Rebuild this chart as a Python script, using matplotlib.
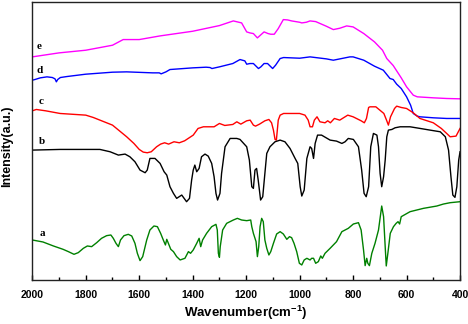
import numpy as np
import matplotlib
matplotlib.use("Agg")
import matplotlib.pyplot as plt
from matplotlib.ticker import MultipleLocator

plt.rcParams['font.family'] = ['Liberation Sans', 'DejaVu Sans']
plt.rcParams['font.weight'] = 'bold'
plt.rcParams['mathtext.fontset'] = 'custom'
plt.rcParams['mathtext.bf'] = 'Liberation Sans:bold'
plt.rcParams['mathtext.rm'] = 'Liberation Sans:bold'
plt.rcParams['mathtext.default'] = 'bf'

# spectra (wavenumber, offset intensity in a.u.)
wn_e = [2000, 1900, 1800, 1700, 1660, 1600, 1522, 1400, 1300, 1248, 1217, 1198, 1186, 1173,
        1158, 1133, 1118, 1108, 1095, 1080, 1061, 1045, 1030, 1000, 992, 975, 961, 940, 900,
        874, 850, 824, 800, 760, 720, 690, 674, 650, 620, 600, 575, 560, 500, 450, 400]
e_val = [670, 682, 690, 705, 722, 722, 733, 747, 764, 778, 772, 745, 742, 740,
         727, 745, 740, 738, 738, 755, 782, 781, 778, 774, 772, 774, 778, 776, 762,
         752, 756, 763, 760, 740, 715, 690, 665, 644, 607, 580, 555, 550, 547, 545, 544]

wn_d = [2000, 1990, 1970, 1945, 1925, 1915, 1910, 1905, 1895, 1870, 1800, 1700, 1647, 1550,
        1525, 1518, 1500, 1485, 1400, 1350, 1335, 1328, 1300, 1250, 1223, 1205, 1198, 1186,
        1173, 1154, 1145, 1133, 1120, 1101, 1090, 1073, 1060, 1000, 961, 900, 874, 812, 800,
        760, 720, 687, 662, 650, 637, 620, 600, 585, 575, 560, 550, 500, 450, 400]
d_val = [600, 602, 607, 610, 608, 604, 595, 602, 608, 611, 618, 624, 625, 622,
         622, 619, 625, 632, 637, 639, 638, 635, 640, 650, 662, 658, 648, 650,
         650, 635, 640, 650, 650, 635, 645, 665, 668, 666, 670, 664, 660, 670, 670,
         660, 642, 630, 605, 602, 588, 575, 550, 525, 500, 492, 490, 487, 485, 485]

wn_c = [2000, 1985, 1950, 1896, 1800, 1772, 1700, 1647, 1620, 1600, 1585, 1570, 1555, 1535,
        1520, 1505, 1490, 1470, 1450, 1430, 1398, 1380, 1360, 1320, 1300, 1280, 1250, 1235,
        1220, 1198, 1185, 1173, 1165, 1150, 1130, 1115, 1105, 1098, 1092, 1087, 1080, 1073,
        1060, 1000, 980, 968, 961, 952, 945, 935, 924, 905, 895, 885, 870, 850, 820, 800,
        770, 758, 750, 742, 737, 715, 700, 685, 675, 668, 660, 645, 637, 620, 600, 575,
        550, 500, 470, 450, 437, 415, 400]
c_val = [508, 512, 508, 500, 495, 488, 465, 430, 410, 392, 384, 382, 385, 400,
         408, 412, 408, 415, 412, 418, 435, 455, 460, 460, 470, 464, 467, 475,
         468, 478, 480, 465, 462, 468, 478, 482, 472, 450, 422, 420, 480, 495,
         500, 500, 495, 480, 460, 460, 480, 490, 475, 472, 478, 472, 485, 480, 495, 490,
         478, 472, 485, 518, 520, 520, 510, 500, 480, 465, 490, 515, 522, 518, 515, 502,
         485, 472, 455, 440, 430, 432, 455]

wn_b = [2000, 1896, 1747, 1709, 1678, 1653, 1635, 1616, 1597, 1578, 1570, 1560, 1541, 1522,
        1507, 1497, 1485, 1472, 1460, 1441, 1432, 1423, 1412, 1404, 1398, 1392, 1385, 1376,
        1367, 1354, 1342, 1329, 1320, 1313, 1307, 1298, 1292, 1279, 1260, 1235, 1223, 1198,
        1188, 1179, 1173, 1167, 1161, 1155, 1146, 1138, 1130, 1123, 1111, 1092, 1073, 1055,
        1036, 1017, 1007, 998, 992, 983, 973, 961, 955, 948, 942, 933, 918, 886, 862, 842,
        830, 818, 799, 780, 768, 759, 751, 742, 734, 724, 711, 705, 699, 693, 686, 680,
        674, 668, 655, 643, 624, 587, 549, 512, 474, 455, 443, 434, 427, 419, 412, 405, 400]
b_val = [390, 392, 392, 385, 375, 378, 370, 355, 330, 322, 330, 365, 365, 350,
         325, 315, 280, 260, 245, 255, 245, 235, 245, 300, 330, 345, 325, 335,
         370, 378, 372, 350, 310, 260, 240, 260, 320, 400, 425, 425, 422, 400,
         360, 280, 275, 330, 335, 300, 240, 250, 320, 380, 400, 415, 420, 415,
         395, 365, 350, 280, 252, 270, 365, 400, 395, 365, 410, 435, 435, 420, 417, 410,
         415, 425, 422, 400, 330, 260, 250, 280, 400, 440, 435, 400, 320, 280, 310, 360,
         430, 450, 452, 457, 460, 460, 455, 450, 445, 430, 390, 310, 255, 248, 280, 360, 385]

wn_a = [2000, 1960, 1921, 1885, 1865, 1844, 1828, 1809, 1794, 1778, 1759, 1741, 1722, 1706,
        1697, 1687, 1678, 1670, 1657, 1641, 1628, 1616, 1607, 1597, 1587, 1572, 1560, 1545,
        1532, 1520, 1510, 1502, 1497, 1491, 1482, 1472, 1460, 1447, 1429, 1416, 1408, 1398,
        1385, 1376, 1370, 1363, 1348, 1329, 1313, 1308, 1304, 1300, 1297, 1288, 1273, 1248,
        1233, 1217, 1198, 1183, 1179, 1173, 1163, 1158, 1153, 1148, 1142, 1136, 1130, 1123,
        1115, 1108, 1098, 1086, 1073, 1061, 1048, 1038, 1030, 1021, 1011, 1001, 992, 983,
        973, 961, 955, 948, 940, 930, 921, 915, 905, 886, 862, 842, 818, 799, 780, 770,
        761, 755, 749, 745, 739, 730, 718, 705, 693, 686, 680, 676, 670, 661, 649, 639,
        632, 626, 620, 587, 537, 487, 462, 437, 400]
a_val = [120, 114, 102, 92, 85, 77, 82, 95, 102, 100, 112, 125, 133, 135,
         125, 110, 100, 120, 133, 137, 132, 110, 80, 58, 70, 120, 150, 162,
         160, 140, 120, 105, 122, 110, 92, 85, 70, 60, 65, 85, 80, 90,
         110, 125, 100, 120, 140, 160, 167, 150, 80, 68, 100, 150, 170, 180,
         185, 180, 178, 180, 160, 140, 115, 70, 100, 160, 185, 175, 120, 95,
         75, 85, 110, 138, 145, 138, 122, 130, 127, 110, 85, 50, 45, 60,
         65, 60, 65, 65, 50, 55, 72, 65, 80, 95, 115, 145, 155, 168, 172, 150,
         90, 43, 65, 50, 43, 80, 110, 150, 222, 190, 100, 42, 80, 140, 160, 170,
         175, 168, 190, 205, 215, 222, 228, 232, 235]

labels = ['a', 'b', 'c', 'd', 'e']
label_pos = [(1963, 140), (1963, 417), (1968, 535), (1974, 630), (1974, 700)]

fig = plt.figure(figsize=(4.68, 3.24), dpi=100)
ax = fig.add_axes([0.069, 0.136, 0.914, 0.858])

lw = 1.0
ax.plot(wn_e, e_val, color='#ff00ff', lw=lw)
ax.plot(wn_d, d_val, color='#0000ff', lw=lw)
ax.plot(wn_c, c_val, color='#ff0000', lw=lw)
ax.plot(wn_b, b_val, color='black', lw=lw)
ax.plot(wn_a, a_val, color='#008000', lw=lw)

for lab, (x, y) in zip(labels, label_pos):
    ax.text(x, y, lab, family=['Liberation Serif', 'DejaVu Serif'], fontweight='bold',
            fontsize=8, ha='center', va='center')

ax.set_xlim(2000, 400)
ax.set_ylim(0, 835)
ax.xaxis.set_major_locator(MultipleLocator(200))
ax.xaxis.set_minor_locator(MultipleLocator(100))
ax.set_yticks([])
ax.tick_params(axis='x', which='major', direction='in', length=3.5, width=1,
               labelsize=7.5, pad=7)
ax.tick_params(axis='x', which='minor', direction='in', length=2, width=1)
for s in ax.spines.values():
    s.set_linewidth(1.0)
    s.set_color('#222222')

ax.set_xlabel(r'Wavenumber(cm$^{-1}$)', fontsize=9.5, fontweight='bold', labelpad=3)
fig.text(7.5 / 468, 1 - 146 / 324, 'Intensity(a.u.)', rotation=90, fontsize=9,
         fontweight='bold', ha='center', va='center')

fig.savefig('out.png', dpi=100)
